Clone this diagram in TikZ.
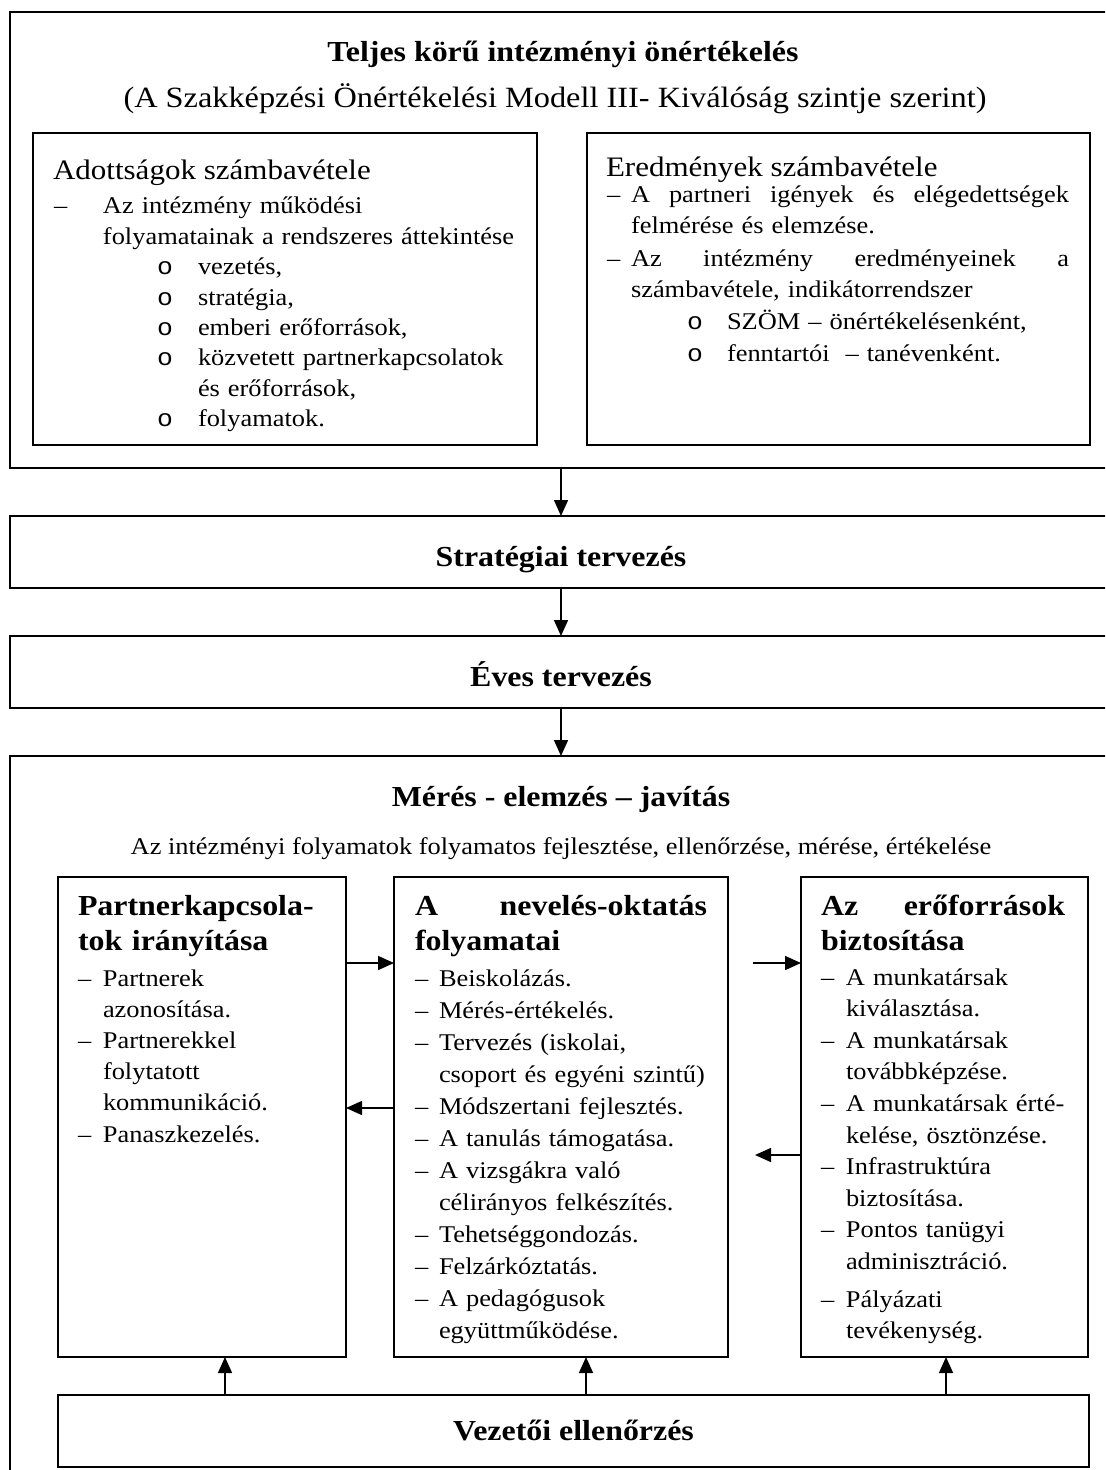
\documentclass[tikz,border=0pt]{standalone}
\usepackage{fontspec}
\setmainfont{Liberation Serif}[FakeStretch=1.1]
\newfontfamily\bulletfont{Liberation Mono}[FakeStretch=1.1]
\usetikzlibrary{arrows.meta}
\newcommand\dsh[1]{\makebox[#1][l]{–}}
\newcommand\bul{\makebox[20.5pt][l]{\bulletfont o}}
\newcommand\jline[2]{\hbox to #1{#2}}
\begin{document}
\begin{tikzpicture}[x=0.5pt,y=-0.5pt,
  box/.style={draw,line width=1pt,inner sep=0pt,outer sep=0pt},
  arr/.style={line width=0.75pt,-{Triangle[length=8pt,width=7pt]}},
  txt/.style={inner sep=0pt,outer sep=0pt,anchor=base west,align=left},
  body/.style={txt,font=\fontsize{12}{15.2}\selectfont},
  big/.style={inner sep=0pt,anchor=base,font=\fontsize{14.5}{17}\selectfont\bfseries},
  head/.style={txt,font=\fontsize{14.5}{17.5}\selectfont\bfseries},
  sub/.style={txt,font=\fontsize{14.1}{17}\selectfont}
]
\clip (0,0) rectangle (1105,1470);
\fill[white] (0,0) rectangle (1105,1470);

% ---------- boxes ----------
\node[box,minimum width=551pt,minimum height=228pt] (outer) at (561,240) {};
\node[box,minimum width=252pt,minimum height=156pt] (adott) at (285,289) {};
\node[box,minimum width=251.5pt,minimum height=156pt] (ered) at (838.5,289) {};
\node[box,minimum width=551pt,minimum height=36pt] (strat) at (561,552) {};
\node[box,minimum width=551pt,minimum height=36pt] (eves) at (561,672) {};
\node[box,minimum width=551pt,minimum height=360pt] (meres) at (561,1116) {};
\node[box,minimum width=144pt,minimum height=240pt] (partner) at (202,1117) {};
\node[box,minimum width=167pt,minimum height=240pt] (nevel) at (561,1117) {};
\node[box,minimum width=143.5pt,minimum height=240pt] (eroforr) at (944.5,1117) {};
\node[box,minimum width=515.5pt,minimum height=36pt] (vezetoi) at (573.5,1431) {};

% ---------- top block texts ----------
\node[big] (title) at (563,62) {Teljes körű intézményi önértékelés};
\node[inner sep=0pt,anchor=base,font=\fontsize{14.7}{17}\selectfont] (subtitle) at (555,108)
  {(A Szakképzési Önértékelési Modell III- Kiválóság szintje szerint)};

\node[sub] (adotthead) at (53,180) {Adottságok számbavétele};
\node[body,text width=240pt] (adottlist) at (54,214) {%
\dsh{24.5pt}Az intézmény működési\\
\hspace*{24.5pt}folyamatainak a rendszeres áttekintése\\
\hspace*{51.5pt}\bul vezetés,\\
\hspace*{51.5pt}\bul stratégia,\\
\hspace*{51.5pt}\bul emberi erőforrások,\\
\hspace*{51.5pt}\bul közvetett partnerkapcsolatok\\
\hspace*{72pt}és erőforrások,\\
\hspace*{51.5pt}\bul folyamatok.};

\node[sub] (eredhead) at (606,177) {Eredmények számbavétele};
\node[body,text width=240pt] (eredlist) at (607,203) {%
\dsh{12pt}\jline{219pt}{A\hfill partneri\hfill igények\hfill és\hfill elégedettségek}\\
\hspace*{12pt}felmérése és elemzése.\\[1.5pt]
\dsh{12pt}\jline{219pt}{Az\hfill intézmény\hfill eredményeinek\hfill a}\\
\hspace*{12pt}számbavétele, indikátorrendszer\\[1pt]
\hspace*{40pt}\makebox[20pt][l]{\bulletfont o}SZÖM – önértékelésenként,\\[1pt]
\hspace*{40pt}\makebox[20pt][l]{\bulletfont o}fenntartói\ \ – tanévenként.};

% ---------- middle ----------
\node[big] (strattext) at (561,566) {Stratégiai tervezés};
\node[big] (evestext) at (561,686) {Éves tervezés};

% ---------- bottom block ----------
\node[big] (merestitle) at (561,806) {Mérés - elemzés – javítás};
\node[inner sep=0pt,anchor=base,font=\fontsize{12}{15.2}\selectfont] (meressub) at (561,854)
  {Az intézményi folyamatok folyamatos fejlesztése, ellenőrzése, mérése, értékelése};

\node[head,text width=135pt] (partnerhead) at (78,915) {Partnerkapcsola-\\tok irányítása};
\node[body,text width=130pt,font=\fontsize{12}{15.6}\selectfont] (partnerlist) at (78,986) {%
\dsh{12.5pt}Partnerek\\
\hspace*{12.5pt}azonosítása.\\
\dsh{12.5pt}Partnerekkel\\
\hspace*{12.5pt}folytatott\\
\hspace*{12.5pt}kommunikáció.\\
\dsh{12.5pt}Panaszkezelés.};

\node[head,text width=160pt] (nevelhead) at (415,915) {\jline{146pt}{A\hfill nevelés-oktatás}\\folyamatai};
\node[body,text width=156pt,font=\fontsize{12}{16}\selectfont] (nevellist) at (415,986) {%
\dsh{12pt}Beiskolázás.\\
\dsh{12pt}Mérés-értékelés.\\
\dsh{12pt}Tervezés (iskolai,\\
\hspace*{12pt}csoport és egyéni szintű)\\
\dsh{12pt}Módszertani fejlesztés.\\
\dsh{12pt}A tanulás támogatása.\\
\dsh{12pt}A vizsgákra való\\
\hspace*{12pt}célirányos felkészítés.\\
\dsh{12pt}Tehetséggondozás.\\
\dsh{12pt}Felzárkóztatás.\\
\dsh{12pt}A pedagógusok\\
\hspace*{12pt}együttműködése.};

\node[head,text width=135pt] (eroforrhead) at (821,915) {\jline{122pt}{Az\hfill erőforrások}\\biztosítása};
\node[body,text width=135pt,font=\fontsize{12}{15.8}\selectfont] (eroforrlist) at (821,985) {%
\dsh{12.5pt}A munkatársak\\
\hspace*{12.5pt}kiválasztása.\\
\dsh{12.5pt}A munkatársak\\
\hspace*{12.5pt}továbbképzése.\\
\dsh{12.5pt}A munkatársak érté-\\
\hspace*{12.5pt}kelése, ösztönzése.\\
\dsh{12.5pt}Infrastruktúra\\
\hspace*{12.5pt}biztosítása.\\
\dsh{12.5pt}Pontos tanügyi\\
\hspace*{12.5pt}adminisztráció.\\[3pt]
\dsh{12.5pt}Pályázati\\
\hspace*{12.5pt}tevékenység.};

\node[big] (vezetoitext) at (573.5,1440) {Vezetői ellenőrzés};

% ---------- connectors ----------
\draw[arr] (outer.south) -- (strat.north);
\draw[arr] (strat.south) -- (eves.north);
\draw[arr] (eves.south) -- (meres.north);

\draw[arr] (partner.east |- 0,963) -- (nevel.west |- 0,963);
\draw[arr] (nevel.west |- 0,1108) -- (partner.east |- 0,1108);
\coordinate (free1) at (753,963);
\coordinate (free2) at (755,1155);
\draw[arr] (free1) -- (eroforr.west |- free1);
\draw[arr] (eroforr.west |- free2) -- (free2);

\draw[arr] (vezetoi.north -| 225,0) -- (partner.south -| 225,0);
\draw[arr] (vezetoi.north -| 586,0) -- (nevel.south -| 586,0);
\draw[arr] (vezetoi.north -| 946,0) -- (eroforr.south -| 946,0);
\end{tikzpicture}
\end{document}
